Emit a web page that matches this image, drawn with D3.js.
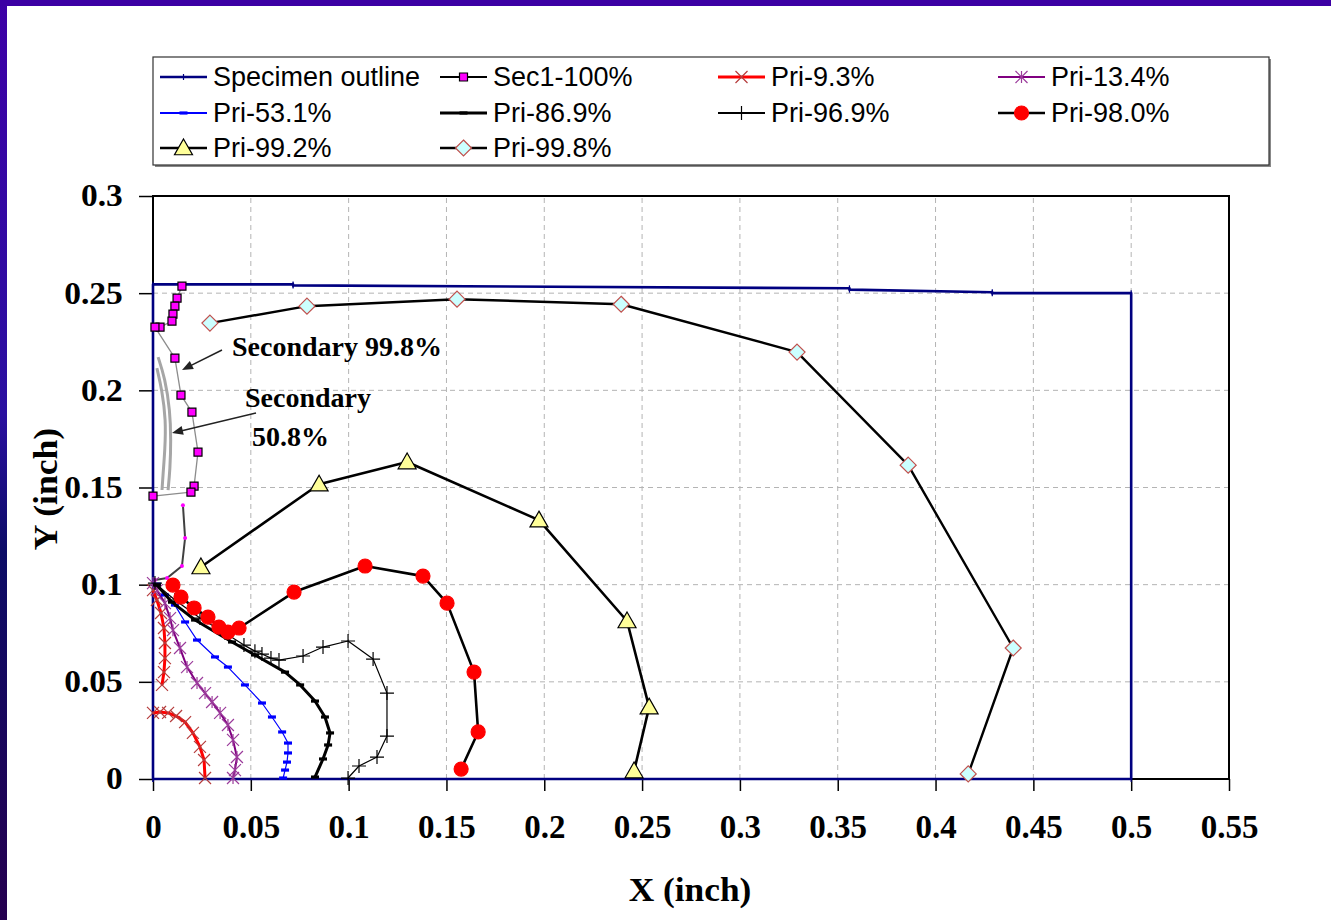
<!DOCTYPE html>
<meta charset="utf-8">
<style>
body {
    margin: 0px;
    overflow: hidden;
    background: white;
}
.grid line {
  stroke: #b4b4b4;
  stroke-width: 1px;
  stroke-dasharray: 5,4;
}
.axis text {
  font-family: "Liberation Serif", "Times New Roman", serif;
  font-weight: bold;
  font-size: 33px;
  fill: black;
}
.axis line { stroke: black; stroke-width: 1.5px; }
.legend text {
  font-family: "Liberation Sans", Arial, sans-serif;
  font-size: 27px;
  fill: black;
}
.note {
  font-family: "Liberation Serif", "Times New Roman", serif;
  font-weight: bold;
  font-size: 28px;
}
</style>
<body>
<script src="https://d3js.org/d3.v7.min.js"></script>
<script>
// axis ticks
var xTicks = [0, 0.05, 0.1, 0.15, 0.2, 0.25, 0.3, 0.35, 0.4, 0.45, 0.5, 0.55];
var yTicks = [0, 0.05, 0.1, 0.15, 0.2, 0.25, 0.3];

// series, [x, y] in inches (null = gap in the line)
var outline = [[0, 0], [0, 0.2545], [0.0716, 0.2545], [0.0716, 0.254], [0.356, 0.2525],
  [0.356, 0.2518], [0.429, 0.2505], [0.429, 0.25], [0.5, 0.25], [0.5, 0], [0, 0]];
var sec1 = [[0.0148, 0.2536], [0.0123, 0.2474], [0.0112, 0.2433], [0.0102, 0.2392], [0.0097, 0.2356],
  [0.0036, 0.2325], [0.001, 0.2325], [0.0112, 0.2166], [0.0143, 0.1975], [0.0199, 0.1888],
  [0.023, 0.1682], [0.021, 0.1507], [0.0194, 0.1476], [0, 0.1456]];
var sec1Tail = [[0.0153, 0.1409], [0.0164, 0.124], [0.0148, 0.1096], [0.0072, 0.1034], [0.001, 0.1024]];
var pri93 = [[0, 0.0972], [0.002, 0.0921], [0.0041, 0.0854], [0.0056, 0.0777], [0.0061, 0.07],
  [0.0061, 0.0622], [0.0056, 0.055], [0.0046, 0.0484], null,
  [0, 0.034], [0.0036, 0.0345], [0.0077, 0.034], [0.0118, 0.0324], [0.0164, 0.0293],
  [0.0204, 0.0237], [0.024, 0.0165], [0.0261, 0.0098], [0.0266, 0.0005]];
var pri134 = [[0, 0.1008], [0.002, 0.0972], [0.0061, 0.0905], [0.0087, 0.0828], [0.0102, 0.0766],
  [0.0138, 0.0674], [0.0174, 0.0576], [0.0225, 0.0494], [0.0266, 0.0442], [0.0302, 0.0396],
  [0.0343, 0.034], [0.0383, 0.0278], [0.0409, 0.0201], [0.0429, 0.0113], [0.0419, 0.0046], [0.0409, 0.0005]];
var pri531 = [[0.002, 0.1003], [0.0061, 0.0947], [0.0112, 0.0895], [0.0164, 0.0808], [0.0225, 0.0715],
  [0.0317, 0.0628], [0.0383, 0.0576], [0.047, 0.0484], [0.0557, 0.0391], [0.0608, 0.0319],
  [0.066, 0.0242], [0.069, 0.0185], [0.069, 0.0134], [0.0685, 0.0087], [0.0675, 0.0046], [0.0665, 0.0005]];
var pri869 = [[0.002, 0.0998], [0.0097, 0.091], [0.0215, 0.0818], [0.0404, 0.0705], [0.0521, 0.0638],
  [0.0675, 0.055], [0.0752, 0.0484], [0.0828, 0.0401], [0.0879, 0.0319], [0.0905, 0.0237],
  [0.0895, 0.0175], [0.0869, 0.0103], [0.0828, 0.001]];
var pri969 = [[0.001, 0.1008], [0.0112, 0.0921], [0.024, 0.0828], [0.0368, 0.0751], [0.0465, 0.0689],
  [0.0521, 0.0658], [0.0557, 0.0643], [0.0603, 0.0622], [0.0644, 0.0612], [0.0767, 0.0633],
  [0.0869, 0.0679], [0.0997, 0.071], [0.1125, 0.0617], [0.1196, 0.0442], [0.1196, 0.0221],
  [0.1145, 0.0113], [0.1053, 0.0067], [0.0997, 0.0005]];
var pri980 = [[0.0102, 0.0998], [0.0143, 0.0936], [0.021, 0.088], [0.0281, 0.0833], [0.0337, 0.0782],
  [0.0383, 0.0756], [0.044, 0.0777], [0.0721, 0.0962], [0.1084, 0.1096], [0.138, 0.1044],
  [0.1503, 0.0905], [0.1641, 0.055], [0.1662, 0.0242], [0.1575, 0.0051]];
var pri992 = [[0.0245, 0.1091], [0.0849, 0.1517], [0.1299, 0.1631], [0.1973, 0.1332],
  [0.2423, 0.0813], [0.2536, 0.037], [0.2459, 0.0041]];
var pri998 = [[0.0291, 0.2346], [0.0787, 0.2433], [0.1554, 0.2469], [0.2393, 0.2443],
  [0.3292, 0.2197], [0.386, 0.1615], [0.4397, 0.0674], [0.4167, 0.0026]];
// hand-drawn "Secondary 50.8%" front
var sec508a = [[0.0026, 0.2171], [0.0061, 0.2063], [0.0087, 0.1898], [0.0092, 0.1744], [0.0087, 0.159], [0.0077, 0.1487]];
var sec508b = [[0.002, 0.2114], [0.0046, 0.2001], [0.0066, 0.1847], [0.0061, 0.1692], [0.0051, 0.1564], [0.0046, 0.1487]];

var width = 1331,
    height = 920;

var x = d3.scaleLinear().domain([0, 0.55]).range([153, 1229]);
var y = d3.scaleLinear().domain([0, 0.3]).range([779, 196]);

var svg = d3.select("body").append("svg")
    .attr("width", width)
    .attr("height", height);

// slide background
var grad = svg.append("defs").append("linearGradient")
    .attr("id", "side").attr("x1", 0).attr("x2", 0).attr("y1", 0).attr("y2", 1);
grad.append("stop").attr("offset", "0%").attr("stop-color", "#3d00a6");
grad.append("stop").attr("offset", "45%").attr("stop-color", "#2a10a0");
grad.append("stop").attr("offset", "60%").attr("stop-color", "#0c0c66");
grad.append("stop").attr("offset", "100%").attr("stop-color", "#260050");

svg.append("rect").attr("width", width).attr("height", height).attr("fill", "white");
svg.append("rect").attr("width", 7).attr("height", height).attr("fill", "url(#side)");
svg.append("rect").attr("width", width).attr("height", 6).attr("fill", "#3c00a4");

// grid
var grid = svg.append("g").attr("class", "grid");
grid.selectAll(".gx").data(xTicks.slice(1, -1)).enter().append("line")
    .attr("x1", d => x(d)).attr("x2", d => x(d))
    .attr("y1", y(0)).attr("y2", y(0.3));
grid.selectAll(".gy").data(yTicks.slice(1, -1)).enter().append("line")
    .attr("y1", d => y(d)).attr("y2", d => y(d))
    .attr("x1", x(0)).attr("x2", x(0.55));

// axes
var xAxis = svg.append("g").attr("class", "axis")
    .attr("transform", "translate(0," + y(0) + ")")
    .call(d3.axisBottom(x).tickValues(xTicks).tickSize(12).tickPadding(24).tickFormat(d3.format("")));
var yAxis = svg.append("g").attr("class", "axis")
    .attr("transform", "translate(" + x(0) + ",0)")
    .call(d3.axisLeft(y).tickValues(yTicks).tickSize(14).tickPadding(14).tickFormat(d3.format("")));
svg.selectAll(".axis .domain").remove();
yAxis.selectAll("text").style("font-size", "31px").attr("transform", "scale(1.08,1)");

svg.append("rect")
    .attr("x", x(0)).attr("y", y(0.3))
    .attr("width", x(0.55) - x(0)).attr("height", y(0) - y(0.3))
    .attr("fill", "none").attr("stroke", "black").attr("stroke-width", 2);

svg.append("text").attr("class", "note")
    .attr("x", 690).attr("y", 901).attr("text-anchor", "middle")
    .style("font-size", "34px")
    .attr("transform", "translate(690,0) scale(1.04,1) translate(-690,0)")
    .text("X (inch)");
svg.append("text").attr("class", "note")
    .attr("text-anchor", "middle")
    .style("font-size", "33px")
    .attr("transform", "translate(57,489) rotate(-90) scale(1.08,1)")
    .text("Y (inch)");

// markers
function markerPath(type, s) {
  switch (type) {
    case "x": return "M" + -s + "," + -s + "L" + s + "," + s + "M" + -s + "," + s + "L" + s + "," + -s;
    case "star": return "M" + -s + "," + -s + "L" + s + "," + s + "M" + -s + "," + s + "L" + s + "," + -s + "M0," + -s + "L0," + s;
    case "plus": return "M" + -s + ",0L" + s + ",0M0," + -s + "L0," + s;
    case "tick": return "M0," + -s + "L0," + s;
    case "diamond": return "M0," + -s + "L" + s + ",0L0," + s + "L" + -s + ",0Z";
    case "square": return "M" + -s + "," + -s + "H" + s + "V" + s + "H" + -s + "Z";
    case "triangle": return "M0," + -s + "L" + s + "," + s * 0.75 + "L" + -s + "," + s * 0.75 + "Z";
    case "dash": return "M" + -s + ",-1.6H" + s + "V1.6H" + -s + "Z";
    case "circle": return d3.symbol(d3.symbolCircle, Math.PI * s * s)();
  }
}

var series = [
  {name: "Specimen outline", data: outline, color: "#000080", w: 2.6, m: "tick", ms: 3, mf: "none", mc: "#000080"},
  {name: "Sec1-100%", data: sec1, color: "#8c8c8c", lc: "#000", w: 1.3, m: "square", ms: 4, mf: "#ff00ff", mc: "#000"},
  {name: "Pri-9.3%", data: pri93, color: "#ff0000", w: 3, m: "x", ms: 6, mf: "none", mc: "#b53c3c"},
  {name: "Pri-13.4%", data: pri134, color: "#800080", w: 2, m: "star", ms: 6, mf: "none", mc: "#9b3b9b"},
  {name: "Pri-53.1%", data: pri531, color: "#0000ff", w: 1.2, m: "dash", ms: 4, mf: "#0000ff", mc: "none"},
  {name: "Pri-86.9%", data: pri869, color: "#000", w: 3, m: "dash", ms: 4, mf: "#000", mc: "none"},
  {name: "Pri-96.9%", data: pri969, color: "#000", w: 1.2, m: "plus", ms: 7, mf: "none", mc: "#000"},
  {name: "Pri-98.0%", data: pri980, color: "#000", w: 2.6, m: "circle", ms: 7, mf: "#ff0000", mc: "#ff0000"},
  {name: "Pri-99.2%", data: pri992, color: "#000", w: 2.6, m: "triangle", ms: 9, mf: "#ffff99", mc: "#000"},
  {name: "Pri-99.8%", data: pri998, color: "#000", w: 2.4, m: "diamond", ms: 8, mf: "#ccffff", mc: "#c0504d"}
];

var line = d3.line()
    .defined(d => d != null)
    .x(d => x(d[0]))
    .y(d => y(d[1]));

var plot = svg.append("g");

// secondary crack fronts (annotation curves)
[sec508a, sec508b].forEach(function(c) {
  plot.append("path").attr("d", d3.line().curve(d3.curveBasis).x(d => x(d[0])).y(d => y(d[1]))(c))
      .attr("fill", "none").attr("stroke", "#a6a6a6").attr("stroke-width", 3);
});
plot.append("path").attr("d", line(sec1Tail))
    .attr("fill", "none").attr("stroke", "#404040").attr("stroke-width", 2);
plot.selectAll(".tail").data(sec1Tail).enter().append("circle")
    .attr("cx", d => x(d[0])).attr("cy", d => y(d[1])).attr("r", 2).attr("fill", "#ff00ff");

series.forEach(function(s) {
  var g = plot.append("g");
  g.append("path").attr("d", line(s.data))
      .attr("fill", "none").attr("stroke", s.color).attr("stroke-width", s.w)
      .attr("stroke-linejoin", "round");
  g.selectAll("path.mk").data(s.data.filter(d => d != null)).enter().append("path")
      .attr("class", "mk")
      .attr("transform", d => "translate(" + x(d[0]) + "," + y(d[1]) + ")")
      .attr("d", markerPath(s.m, s.ms))
      .attr("fill", s.mf).attr("stroke", s.mc).attr("stroke-width", 1.2);
});

// annotations
var notes = svg.append("g");
notes.append("text").attr("class", "note").attr("x", 232).attr("y", 356).text("Secondary 99.8%");
notes.append("text").attr("class", "note").attr("x", 245).attr("y", 407).text("Secondary");
notes.append("text").attr("class", "note").attr("x", 252).attr("y", 446).text("50.8%");

function arrow(x1, y1, x2, y2) {
  var a = Math.atan2(y2 - y1, x2 - x1);
  notes.append("line").attr("x1", x1).attr("y1", y1)
      .attr("x2", x2 - 8 * Math.cos(a)).attr("y2", y2 - 8 * Math.sin(a))
      .attr("stroke", "#222").attr("stroke-width", 1.5);
  var p1 = [x2 - 11 * Math.cos(a) + 4.5 * Math.sin(a), y2 - 11 * Math.sin(a) - 4.5 * Math.cos(a)];
  var p2 = [x2 - 11 * Math.cos(a) - 4.5 * Math.sin(a), y2 - 11 * Math.sin(a) + 4.5 * Math.cos(a)];
  notes.append("path").attr("d", "M" + x2 + "," + y2 + "L" + p1 + "L" + p2 + "Z").attr("fill", "#222");
}
arrow(222, 350, 182, 370);
arrow(256, 413, 172, 433);

// legend
var legend = svg.append("g").attr("class", "legend");
legend.append("rect").attr("x", 155).attr("y", 59).attr("width", 1116).attr("height", 108).attr("fill", "#888");
legend.append("rect").attr("x", 153).attr("y", 57).attr("width", 1116).attr("height", 108)
    .attr("fill", "white").attr("stroke", "#333").attr("stroke-width", 1.2);
var colX = [160, 440, 718, 998],
    rowY = [77, 113, 148];
series.forEach(function(s, i) {
  var lx = colX[i % 4], ly = rowY[Math.floor(i / 4)];
  var g = legend.append("g").attr("transform", "translate(" + lx + "," + ly + ")");
  g.append("line").attr("x1", 0).attr("x2", 47)
      .attr("stroke", s.lc || s.color).attr("stroke-width", Math.max(s.w, 2));
  g.append("path").attr("transform", "translate(23.5,0)")
      .attr("d", markerPath(s.m, s.ms))
      .attr("fill", s.mf).attr("stroke", s.mc).attr("stroke-width", 1.2);
  g.append("text").attr("x", 53).attr("dy", "0.35em").text(s.name);
});
</script>
</body>
</html>
